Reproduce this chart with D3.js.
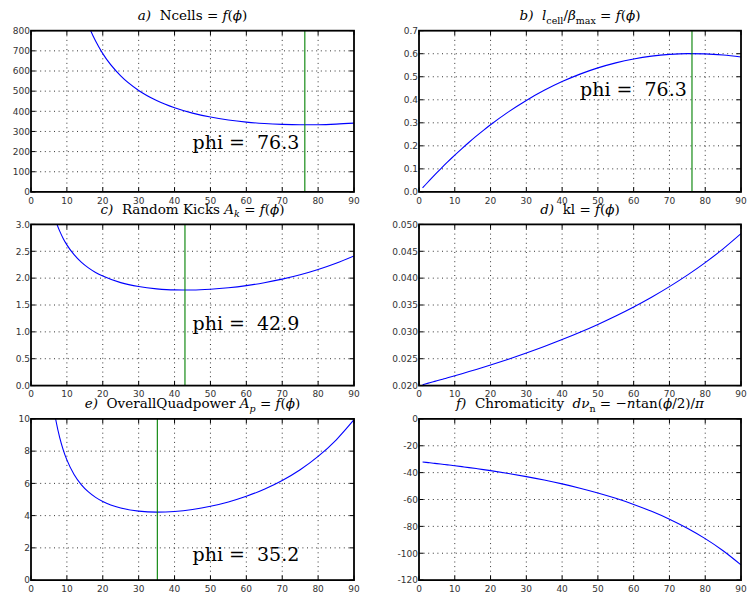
<!DOCTYPE html>
<html><head><meta charset="utf-8">
<script src="https://cdn.jsdelivr.net/npm/d3@7"></script>
<style>body{margin:0;background:#fff;} text{white-space:pre;}</style>
</head><body><svg id="chart" width="749" height="599"></svg>
<script>
// phase advance per cell (degrees)
const phi = [1,2,3,4,5,6,7,8,9,10,12,14,16,18,20,25,30,35,40,45,50,55,60,65,70,75,80,85,90];
// a) number of cells
const ncells = [11560,5831,3921,2967,2395,2013,1741,1537,1379,1252,1062.5,927.5,826.6,748.5,686.3,575.7,503.5,453.5,417.6,391.1,371.4,356.9,346.4,339.2,334.9,333.1,333.6,336.4,341.4];
// b) l_cell / beta_max
const lcellOverBetaMax = [0.017301,0.034301,0.051001,0.067404,0.083513,0.099330,0.114857,0.130098,0.145054,0.159727,0.188236,0.215641,0.241963,0.267216,0.291419,0.347424,0.397197,0.440973,0.478970,0.511404,0.538474,0.560392,0.577350,0.589545,0.597171,0.600416,0.599473,0.594534,0.585786];
// c) random kicks A_k
const randomKicks = [7.636,5.447,4.487,3.921,3.538,3.259,3.045,2.8745,2.7351,2.6189,2.4357,2.2980,2.1911,2.1063,2.0378,1.9166,1.8430,1.8008,1.7813,1.7798,1.7934,1.8208,1.8612,1.9147,1.9817,2.0632,2.1610,2.2770,2.4142];
// d) kl
const kl = [0.020175,0.020352,0.020531,0.020711,0.020892,0.021076,0.021261,0.021447,0.021636,0.021826,0.022212,0.022606,0.023007,0.023417,0.023835,0.024919,0.026065,0.027277,0.028563,0.029932,0.031394,0.032959,0.034641,0.036455,0.038420,0.040556,0.042891,0.045453,0.048284];
// e) overall quad power A_p
const quadPower = [58.82,30.19,20.66,15.911,13.063,11.177,9.838,8.839,8.068,7.456,6.553,5.924,5.469,5.131,4.874,4.468,4.276,4.218,4.258,4.380,4.576,4.846,5.196,5.636,6.180,6.848,7.672,8.688,9.950];
// f) chromaticity
const chromaticity = [-32.111,-32.396,-32.687,-32.982,-33.283,-33.589,-33.901,-34.218,-34.541,-34.870,-35.547,-36.249,-36.977,-37.734,-38.520,-40.624,-42.947,-45.519,-48.377,-51.564,-55.131,-59.139,-63.662,-68.794,-74.647,-81.359,-89.109,-98.119,-108.678];

// optimum markers
const optimumPhi = [76.3, 76.3, 42.9, null, 35.2, null];
const optimumLabelY = [212, 0.416, 1.03, null, 1.18, null];

// tick values
const xTicks = [0,10,20,30,40,50,60,70,80,90];
const yTicksA = [0,100,200,300,400,500,600,700,800];
const yTicksB = [0.0,0.1,0.2,0.3,0.4,0.5,0.6,0.7];
const yTicksC = [0.0,0.5,1.0,1.5,2.0,2.5,3.0];
const yTicksD = [0.020,0.025,0.030,0.035,0.040,0.045,0.050];
const yTicksE = [0,2,4,6,8,10];
const yTicksF = [-120,-100,-80,-60,-40,-20,0];

const I = t => ({t, i:true});
const R = t => ({t});
const S = (t, it) => ({t, sub:true, i:!!it});

const panels = [
  {values: ncells, ticks: yTicksA, fmt: d3.format("d"),
   title: [I("a)"), R("  Ncells = "), I("f"), R("("), I("ϕ"), R(")")]},
  {values: lcellOverBetaMax, ticks: yTicksB, fmt: d3.format(".1f"),
   title: [I("b)"), R("  "), I("l"), S("cell"), R("/"), I("β"), S("max"), R(" = "), I("f"), R("("), I("ϕ"), R(")")]},
  {values: randomKicks, ticks: yTicksC, fmt: d3.format(".1f"),
   title: [I("c)"), R("  Random Kicks "), I("A"), S("k", true), R(" = "), I("f"), R("("), I("ϕ"), R(")")]},
  {values: kl, ticks: yTicksD, fmt: d3.format(".3f"),
   title: [I("d)"), R("  kl = "), I("f"), R("("), I("ϕ"), R(")")]},
  {values: quadPower, ticks: yTicksE, fmt: d3.format("d"),
   title: [I("e)"), R("  OverallQuadpower "), I("A"), S("p", true), R(" = "), I("f"), R("("), I("ϕ"), R(")")]},
  {values: chromaticity, ticks: yTicksF, fmt: d => String(d),
   title: [I("f)"), R("  Chromaticity  "), I("dν"), S("n"), R(" = −"), I("n"), R("tan("), I("ϕ"), R("/2)/"), I("π")]}
];

const colX = [31, 419], colW = [323, 322];
const rowY = [30.7, 224.4, 418.9], H = 161.2;

const svg = d3.select("#chart");
const defs = svg.append("defs");

panels.forEach((p, k) => {
  const col = k % 2, row = Math.floor(k / 2);
  const x0 = colX[col], w = colW[col], y0 = rowY[row];
  const x = d3.scaleLinear().domain([0, 90]).range([x0, x0 + w]);
  const y = d3.scaleLinear().domain([p.ticks[0], p.ticks[p.ticks.length - 1]]).range([y0 + H, y0]);
  const g = svg.append("g");

  defs.append("clipPath").attr("id", "clip" + k)
    .append("rect").attr("x", x0).attr("y", y0).attr("width", w).attr("height", H);

  // grid
  g.append("g").selectAll("line").data(xTicks.slice(1, -1)).join("line")
    .attr("x1", d => x(d)).attr("x2", d => x(d)).attr("y1", y0).attr("y2", y0 + H)
    .attr("stroke", "#000").attr("stroke-width", 0.8).attr("stroke-dasharray", "1,3.6");
  g.append("g").selectAll("line").data(p.ticks.slice(1, -1)).join("line")
    .attr("y1", d => y(d)).attr("y2", d => y(d)).attr("x1", x0).attr("x2", x0 + w)
    .attr("stroke", "#000").attr("stroke-width", 0.8).attr("stroke-dasharray", "1,3.6");

  // curve
  const line = d3.line().x((d, i) => x(phi[i])).y(d => y(d)).curve(d3.curveMonotoneX);
  g.append("path").datum(p.values).attr("d", line)
    .attr("fill", "none").attr("stroke", "#0000ff").attr("stroke-width", 1.1)
    .attr("clip-path", "url(#clip" + k + ")");

  // optimum marker
  if (optimumPhi[k] != null) {
    g.append("line").attr("x1", x(optimumPhi[k])).attr("x2", x(optimumPhi[k]))
      .attr("y1", y0).attr("y2", y0 + H).attr("stroke", "#008000").attr("stroke-width", 1.1);
    g.append("text").attr("x", x(45)).attr("y", y(optimumLabelY[k]))
      .attr("font-family", "DejaVu Serif").attr("font-size", 19).attr("fill", "#000")
      .text("phi =  " + d3.format(".1f")(optimumPhi[k]));
  }

  // ticks (inward, all four sides)
  const tl = 4.5;
  const tg = g.append("g").attr("stroke", "#000").attr("stroke-width", 1);
  xTicks.forEach(t => {
    tg.append("line").attr("x1", x(t)).attr("x2", x(t)).attr("y1", y0 + H).attr("y2", y0 + H - tl);
    tg.append("line").attr("x1", x(t)).attr("x2", x(t)).attr("y1", y0).attr("y2", y0 + tl);
  });
  p.ticks.forEach(t => {
    tg.append("line").attr("y1", y(t)).attr("y2", y(t)).attr("x1", x0).attr("x2", x0 + tl);
    tg.append("line").attr("y1", y(t)).attr("y2", y(t)).attr("x1", x0 + w).attr("x2", x0 + w - tl);
  });

  // frame
  g.append("rect").attr("x", x0).attr("y", y0).attr("width", w).attr("height", H)
    .attr("fill", "none").attr("stroke", "#000").attr("stroke-width", 1.8);

  // tick labels
  g.append("g").selectAll("text").data(xTicks).join("text")
    .attr("x", d => x(d)).attr("y", y0 + H + 11.8).attr("text-anchor", "middle")
    .attr("font-family", "DejaVu Sans").attr("font-size", 9).attr("fill", "#333")
    .text(d => d);
  g.append("g").selectAll("text").data(p.ticks).join("text")
    .attr("x", x0 - 1).attr("y", d => y(d) + 3.3).attr("text-anchor", "end")
    .attr("font-family", "DejaVu Sans").attr("font-size", 9).attr("fill", "#333")
    .text(d => p.fmt(d));

  // title
  const tt = g.append("text").attr("x", x0 + w / 2).attr("y", y0 - 10.5)
    .attr("text-anchor", "middle").attr("font-family", "DejaVu Serif")
    .attr("font-size", 13.5).attr("fill", "#000");
  let shifted = false;
  p.title.forEach(s => {
    const ts = tt.append("tspan").text(s.t);
    if (s.i) ts.attr("font-style", "italic");
    if (s.sub) {
      ts.attr("font-size", 9.5).attr("dy", shifted ? 0 : 3.5);
      shifted = true;
    } else if (shifted) {
      ts.attr("dy", -3.5);
      shifted = false;
    }
  });
});
</script>
</body></html>
